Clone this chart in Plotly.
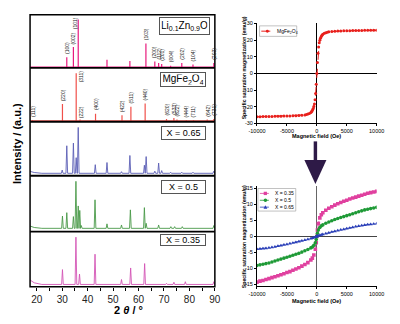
import plotly.graph_objects as go

# ---------------- data ----------------
tick_vals = [20, 30, 40, 50, 60, 70, 80, 90]
tick_text = ["20", "30", "40", "50", "60", "70", "80", "90"]
minor_tick_vals = [25, 35, 45, 55, 65, 75, 85]

# reference stick patterns (2theta, relative intensity 0-100)
lizn_pos = [31.8, 34.4, 36.3, 47.6, 56.6, 62.9, 66.4, 67.9, 69.1, 72.6, 77.0, 81.4, 89.6]
lizn_int = [20, 39, 91, 15, 13, 46, 12, 9, 7, 4, 9, 6, 9]
lizn_hkl = ["(100)", "(002)", "(101)", "", "", "(103)", "(200)", "(112)", "(201)", "(004)", "(202)", "(104)", "(203)"]

mgfe_pos = [18.3, 30.1, 35.5, 37.0, 43.1, 53.5, 57.0, 62.6, 71.0, 73.9, 75.1, 78.8, 81.6, 87.0, 89.6]
mgfe_int = [3, 33, 90, 4, 15, 12, 28, 34, 5, 7, 4, 3, 3, 4, 5]
mgfe_hkl = ["(111)", "(220)", "(311)", "(222)", "(400)", "(422)", "(511)", "(440)",
            "(620)", "(533)", "(622)", "(444)", "(711)", "(642)", "(731)"]

# measured patterns: peak positions and heights above baseline
x065_pos = [30.0, 31.8, 34.4, 35.5, 36.3, 43.0, 47.6, 53.3, 56.6, 62.3, 63.0, 66.4, 67.9, 69.1, 72.6, 77.0, 81.4, 89.6]
x065_int = [6, 51, 56, 29, 85, 16, 20, 3, 33, 15, 31, 4, 19, 5, 2, 2, 2, 4]
x065_base = 4.5
x065_bg_x = [17.4, 19.0, 22.0]
x065_bg_y = [8, 6, 4.5]

x050_pos = [30.1, 31.8, 34.4, 35.4, 36.3, 36.9, 37.5, 42.9, 47.6, 53.3, 56.8, 62.3, 63.0, 67.9, 72.7, 74.2, 77.2, 89.6]
x050_int = [22, 28, 21, 84, 40, 32, 5, 51, 8, 6, 33, 37, 9, 6, 3, 3, 3, 5]
x050_base = 6
x050_bg_x = [17.4, 19.0, 22.0]
x050_bg_y = [10, 7.5, 6]

x035_pos = [30.1, 35.4, 36.8, 42.9, 53.3, 56.9, 62.4, 71.0, 73.9, 78.4, 89.6]
x035_int = [27, 86, 19, 55, 9, 30, 38, 2, 4, 5, 5]
x035_base = 4
x035_bg_x = [17.4, 19.0, 22.0]
x035_bg_y = [12, 7, 4]

panel_labels = ["Li<sub>0.1</sub>Zn<sub>0.9</sub>O", "MgFe<sub>2</sub>O<sub>4</sub>", "X = 0.65", "X = 0.5", "X = 0.35"]

# magnetization of MgFe2O4
field_mg = [-10000, -9500, -9000, -8500, -8000, -7500, -7000, -6500, -6000, -5500, -5000, -4500, -4000,
            -3500, -3000, -2500, -2000, -1750, -1500, -1250, -1000, -900, -800, -700, -600, -500, -400,
            -300, -200, -100, 0, 100, 200, 300, 400, 500, 600, 700, 800, 900, 1000, 1250, 1500, 1750,
            2000, 2500, 3000, 3500, 4000, 4500, 5000, 5500, 6000, 6500, 7000, 7500, 8000, 8500, 9000,
            9500, 10000]
m_mg = [-26.0, -25.95, -25.9, -25.85, -25.8, -25.78, -25.75, -25.7, -25.68, -25.62, -25.58, -25.52, -25.46,
        -25.38, -25.28, -25.12, -24.9, -24.7, -24.4, -24.0, -23.4, -23.0, -22.5, -21.8, -21.0, -19.9, -18.3,
        -15.8, -12.0, -6.5, 0, 6.5, 12.0, 15.8, 18.3, 19.9, 21.0, 21.8, 22.5, 23.0, 23.4, 24.0, 24.4, 24.7,
        24.9, 25.1, 25.25, 25.35, 25.45, 25.5, 25.55, 25.6, 25.65, 25.7, 25.72, 25.75, 25.78, 25.8, 25.83,
        25.86, 25.9]

# magnetization of Li-Zn doped samples
field_x = [-10000, -9500, -9000, -8500, -8000, -7500, -7000, -6500, -6000, -5500, -5000, -4500, -4000,
           -3500, -3000, -2500, -2000, -1500, -1000, -750, -500, -250, -100, 0, 100, 250, 500, 750,
           1000, 1500, 2000, 2500, 3000, 3500, 4000, 4500, 5000, 5500, 6000, 6500, 7000, 7500, 8000,
           8500, 9000, 9500, 10000]
m_x035 = [-14.3, -14.0, -13.8, -13.5, -13.2, -12.9, -12.6, -12.3, -12.0, -11.7, -11.3, -11.0, -10.6,
          -10.2, -9.8, -9.3, -8.8, -8.2, -7.4, -6.8, -5.8, -4.0, -2.0, 0, 2.0, 4.0, 5.8, 6.8,
          7.4, 8.2, 8.8, 9.3, 9.8, 10.2, 10.6, 11.0, 11.3, 11.7, 12.0, 12.3, 12.6, 12.9, 13.2,
          13.5, 13.7, 13.9, 14.1]
m_x050 = [-9.1, -8.9, -8.7, -8.5, -8.3, -8.0, -7.7, -7.4, -7.1, -6.8, -6.5, -6.2, -5.9,
          -5.6, -5.3, -4.9, -4.5, -4.1, -3.6, -3.3, -2.8, -2.0, -1.0, 0, 1.0, 2.0, 2.8, 3.3,
          3.6, 4.1, 4.5, 4.9, 5.3, 5.6, 5.9, 6.2, 6.5, 6.8, 7.1, 7.4, 7.7, 8.0, 8.3,
          8.5, 8.7, 8.9, 9.1]
m_x065 = [-4.0, -3.9, -3.8, -3.7, -3.55, -3.4, -3.25, -3.05, -2.85, -2.65, -2.45, -2.25, -2.05,
          -1.85, -1.6, -1.4, -1.15, -0.9, -0.65, -0.5, -0.35, -0.2, -0.1, 0, 0.1, 0.2, 0.35, 0.5,
          0.65, 0.9, 1.15, 1.4, 1.6, 1.85, 2.05, 2.25, 2.45, 2.65, 2.85, 3.05, 3.25, 3.4, 3.55,
          3.7, 3.8, 3.9, 4.0]
mh_legend = ["X = 0.35", "X = 0.5", "X = 0.65"]

field_ticks = [-10000, -5000, 0, 5000, 10000]
field_ticktext = ["-10000", "-5000", "0", "5000", "10000"]
mg_ticks = [-30, -20, -10, 0, 10, 20, 30]
mg_ticktext = ["-30", "-20", "-10", "0", "10", "20", "30"]
mx_ticks = [-15, -10, -5, 0, 5, 10, 15]
mx_ticktext = ["-15", "-10", "-5", "0", "5", "10", "15"]

# ---------------- helpers ----------------
W, H = 400, 324
FONT = "Liberation Sans, Arial, sans-serif"


def px(x):
    return x / W


def py(y):
    return 1 - y / H


XMIN, XMAX = 17.37, 90.0


def sticks(pos, inten, base):
    xs, ys = [XMIN, XMAX, None], [base, base, None]
    for p, h in zip(pos, inten):
        xs += [p, p, None]
        ys += [base, h, None]
    return xs, ys


def profile(bg_x, bg_y, pos, inten, base, hw=0.33):
    xs, ys = list(bg_x), list(bg_y)
    for p, h in sorted(zip(pos, inten)):
        xs += [p - hw, p, p + hw]
        ys += [base, base + h, base]
    xs.append(XMAX)
    ys.append(base)
    return xs, ys


fig = go.Figure()

col_lizn = "#e8197d"
col_mgfe = "#f0504a"
col_065 = "#5b5fb5"
col_050 = "#4a9a48"
col_035 = "#d455b5"

xs, ys = sticks(lizn_pos, lizn_int, 1.5)
fig.add_trace(go.Scatter(x=xs, y=ys, mode="lines", line=dict(color=col_lizn, width=1.2),
                         xaxis="x", yaxis="y", showlegend=False, hoverinfo="skip"))
xs, ys = sticks(mgfe_pos, mgfe_int, 1.5)
fig.add_trace(go.Scatter(x=xs, y=ys, mode="lines", line=dict(color=col_mgfe, width=1.2),
                         xaxis="x", yaxis="y2", showlegend=False, hoverinfo="skip"))
for (bx, by, pp, ii, bb, col, yax) in [
        (x065_bg_x, x065_bg_y, x065_pos, x065_int, x065_base, col_065, "y3"),
        (x050_bg_x, x050_bg_y, x050_pos, x050_int, x050_base, col_050, "y4"),
        (x035_bg_x, x035_bg_y, x035_pos, x035_int, x035_base, col_035, "y5")]:
    xs, ys = profile(bx, by, pp, ii, bb)
    fig.add_trace(go.Scatter(x=xs, y=ys, mode="lines", line=dict(color=col, width=0.9),
                             xaxis="x", yaxis=yax, showlegend=False, hoverinfo="skip"))

# M-H curves
fig.add_trace(go.Scatter(x=field_mg, y=m_mg, mode="lines+markers",
                         line=dict(color="#e8201c", width=1, dash="dash"),
                         marker=dict(symbol="circle", size=3, color="#e8201c"),
                         xaxis="x2", yaxis="y6", showlegend=False))
mh_colors = ["#e0409f", "#1e9a36", "#2a3fb8"]
mh_symbols = ["square", "circle", "triangle-up"]
for m, c, s in zip([m_x035, m_x050, m_x065], mh_colors, mh_symbols):
    fig.add_trace(go.Scatter(x=field_x, y=m, mode="lines+markers",
                             line=dict(color=c, width=0.8, dash="dash"),
                             marker=dict(symbol=s, size=3.6, color=c),
                             xaxis="x3", yaxis="y7", showlegend=False))

# ---------------- layout ----------------
panel_px = [12, 66, 121, 176, 233, 289]
layout = dict(
    width=W, height=H, margin=dict(l=0, r=0, t=0, b=0),
    paper_bgcolor="white", plot_bgcolor="rgba(0,0,0,0)",
    font=dict(family=FONT, color="black"),
    showlegend=False,
    xaxis=dict(domain=[px(22), px(215)], range=[XMIN, XMAX], anchor="y5",
               tickmode="array", tickvals=tick_vals, ticktext=tick_text,
               ticks="outside", ticklen=3, tickwidth=1, tickcolor="black",
               minor=dict(tickmode="array", tickvals=minor_tick_vals, ticks="outside",
                          ticklen=3, tickwidth=1, tickcolor="black", showgrid=False),
               tickfont=dict(size=10, color="#222", family=FONT),
               showgrid=False, zeroline=False, showline=False),
)
names = ["yaxis", "yaxis2", "yaxis3", "yaxis4", "yaxis5"]
for i, nm in enumerate(names):
    layout[nm] = dict(domain=[py(panel_px[i + 1]), py(panel_px[i])], range=[0, 100],
                      anchor="x", visible=False, showgrid=False, zeroline=False)

axis_common = dict(showgrid=False, showline=True, linecolor="black", linewidth=1,
                   ticks="outside", ticklen=2, tickwidth=0.8, tickcolor="black",
                   tickfont=dict(size=5.5, color="black", family=FONT), tickmode="array")
layout["xaxis2"] = dict(domain=[px(259), px(384)], range=[-10000, 10000], anchor="y6",
                        tickvals=field_ticks, ticktext=field_ticktext,
                        zeroline=True, zerolinecolor="black", zerolinewidth=1, **axis_common)
layout["yaxis6"] = dict(domain=[py(122.7), py(20.7)], range=[-30, 30], anchor="x2",
                        tickvals=mg_ticks, ticktext=mg_ticktext,
                        zeroline=True, zerolinecolor="black", zerolinewidth=1, **axis_common)
layout["xaxis3"] = dict(domain=[px(259), px(384)], range=[-10000, 10000], anchor="y7",
                        tickvals=field_ticks, ticktext=field_ticktext,
                        zeroline=True, zerolinecolor="#666", zerolinewidth=1, **axis_common)
layout["yaxis7"] = dict(domain=[py(288.3), py(186.7)], range=[-15.5, 15.7], anchor="x3",
                        tickvals=mx_ticks, ticktext=mx_ticktext,
                        zeroline=True, zerolinecolor="#444", zerolinewidth=1, **axis_common)

# ---------------- shapes ----------------
shapes = []
shapes.append(dict(type="rect", xref="paper", yref="paper", x0=px(22), x1=px(215),
                   y0=py(289), y1=py(12), line=dict(color="black", width=1.5)))
for yy in panel_px[1:-1]:
    shapes.append(dict(type="line", xref="paper", yref="paper", x0=px(22), x1=px(215),
                       y0=py(yy), y1=py(yy), line=dict(color="black", width=1.8)))
# arrow
arrow_col = "#2e1a47"
shapes.append(dict(type="rect", xref="paper", yref="paper", x0=px(318.2), x1=px(321.8),
                   y0=py(162), y1=py(141), line=dict(width=0), fillcolor=arrow_col))
shapes.append(dict(type="path", xref="paper", yref="paper",
                   path=f"M {px(308.5)} {py(160)} L {px(331.5)} {py(160)} L {px(320)} {py(184.5)} Z",
                   line=dict(width=0), fillcolor=arrow_col))

# legend (top-right)
shapes.append(dict(type="rect", xref="paper", yref="paper", x0=px(261.7), x1=px(300.5),
                   y0=py(34), y1=py(23.3), line=dict(color="#999", width=0.6), fillcolor="white"))
shapes.append(dict(type="line", xref="paper", yref="paper", x0=px(263.5), x1=px(276),
                   y0=py(28.7), y1=py(28.7), line=dict(color="#e8201c", width=1, dash="dash")))
shapes.append(dict(type="circle", xref="paper", yref="paper", x0=px(268.3), x1=px(271.3),
                   y0=py(30.2), y1=py(27.2), line=dict(width=0), fillcolor="#e8201c"))

# legend (bottom-right)
shapes.append(dict(type="rect", xref="paper", yref="paper", x0=px(260), x1=px(299.5),
                   y0=py(212), y1=py(189), line=dict(color="#999", width=0.6), fillcolor="white"))
leg_y = [194, 201, 208]
for i, (c, s) in enumerate(zip(mh_colors, mh_symbols)):
    yy = leg_y[i]
    shapes.append(dict(type="line", xref="paper", yref="paper", x0=px(262), x1=px(273.5),
                       y0=py(yy), y1=py(yy), line=dict(color=c, width=0.8, dash="dash")))
    if s == "square":
        shapes.append(dict(type="rect", xref="paper", yref="paper", x0=px(266), x1=px(269.4),
                           y0=py(yy + 1.7), y1=py(yy - 1.7), line=dict(width=0), fillcolor=c))
    elif s == "circle":
        shapes.append(dict(type="circle", xref="paper", yref="paper", x0=px(266), x1=px(269.6),
                           y0=py(yy + 1.8), y1=py(yy - 1.8), line=dict(width=0), fillcolor=c))
    else:
        shapes.append(dict(type="path", xref="paper", yref="paper",
                           path=f"M {px(265.8)} {py(yy + 1.6)} L {px(269.8)} {py(yy + 1.6)} L {px(267.8)} {py(yy - 2)} Z",
                           line=dict(width=0), fillcolor=c))
layout["shapes"] = shapes

# ---------------- annotations ----------------
ann = []
# hkl labels
lizn_adj = {"(101)": (35.0, 99, "top")}
mgfe_adj = {"(311)": (37.4, 99, "top"), "(222)": (37.4, 3, "bottom")}
for pos, inten, hkl, adj, yref in [(lizn_pos, lizn_int, lizn_hkl, lizn_adj, "y"),
                                   (mgfe_pos, mgfe_int, mgfe_hkl, mgfe_adj, "y2")]:
    for p, h, lab in zip(pos, inten, hkl):
        if not lab:
            continue
        xx, yy, ya = adj.get(lab, (p, h + 2, "bottom"))
        ann.append(dict(x=xx, y=yy, xref="x", yref=yref, text=lab, showarrow=False,
                        textangle=-90, xanchor="center", yanchor=ya,
                        font=dict(size=5, color="#222", family=FONT)))

# panel label boxes
box_geo = [(183.5, 23.5, 46, 13, 10), (181.5, 77.7, 41, 10, 10), (182, 132.5, 40, 8.5, 9),
           (182, 187.3, 40, 9.3, 9), (181.5, 241.5, 41, 7, 9)]
for lab, (cx, cy, bw, bh, fs) in zip(panel_labels, box_geo):
    ann.append(dict(x=px(cx), y=py(cy), xref="paper", yref="paper", text=lab, showarrow=False,
                    xanchor="center", yanchor="middle", width=bw, height=bh,
                    bordercolor="#555", borderwidth=1, borderpad=1.5, bgcolor="white",
                    font=dict(size=fs, color="black", family=FONT)))

# axis titles left
ann.append(dict(x=px(124.5), y=py(312.5), xref="paper", yref="paper",
                text="<b>2 <i>θ</i> / °</b>", showarrow=False, xanchor="center", yanchor="middle",
                font=dict(size=11, color="black", family=FONT)))
ann.append(dict(x=px(9), y=py(143), xref="paper", yref="paper",
                text="<b>Intensity / (a.u.)</b>", showarrow=False, textangle=-90,
                xanchor="center", yanchor="middle", font=dict(size=11, color="black", family=FONT)))

# M-H titles
for cy in [135, 304]:
    ann.append(dict(x=px(321), y=py(cy), xref="paper", yref="paper",
                    text="<b>Magnetic field (Oe)</b>", showarrow=False, xanchor="center",
                    yanchor="middle", font=dict(size=5.5, color="black", family=FONT)))
for cy in [66, 238]:
    ann.append(dict(x=px(245), y=py(cy), xref="paper", yref="paper",
                    text="<b>Specific saturation magnetization (emu/g)</b>", showarrow=False,
                    textangle=-90, xanchor="center", yanchor="middle",
                    font=dict(size=5.2, color="black", family=FONT)))

# legend texts
ann.append(dict(x=px(278), y=py(28.7), xref="paper", yref="paper",
                text="MgFe<sub>2</sub>O<sub>4</sub>", showarrow=False, xanchor="left",
                yanchor="middle", font=dict(size=5, color="black", family=FONT)))
for lab, yy in zip(mh_legend, leg_y):
    ann.append(dict(x=px(275.5), y=py(yy), xref="paper", yref="paper", text=lab,
                    showarrow=False, xanchor="left", yanchor="middle",
                    font=dict(size=5, color="black", family=FONT)))
layout["annotations"] = ann

fig.update_layout(**layout)
fig.write_html("out.html")
